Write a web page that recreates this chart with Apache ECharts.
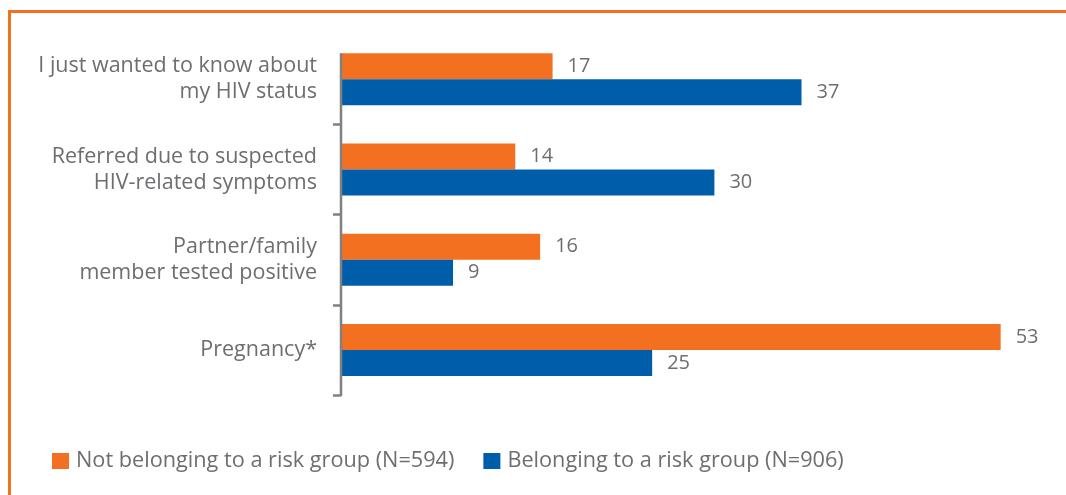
<!DOCTYPE html>
<html>
<head>
<meta charset="utf-8">
<script src="https://cdn.jsdelivr.net/npm/echarts@6/dist/echarts.min.js"></script>
<style>
  html, body { margin: 0; padding: 0; background: #ffffff; }
  #chart { width: 1066px; height: 495px; }
</style>
</head>
<body>
<div id="chart"></div>
<script>
// Reasons for taking an HIV test, percent of respondents
const categories = [
  'I just wanted to know about\nmy HIV status',
  'Referred due to suspected\nHIV-related symptoms',
  'Partner/family\nmember tested positive',
  'Pregnancy*'
];
const notRiskGroup = [17, 14, 16, 53];
const riskGroup = [37, 30, 9, 25];
const seriesNames = [
  'Not belonging to a risk group (N=594)',
  'Belonging to a risk group (N=906)'
];

const ORANGE = '#f37021';
const BLUE = '#005daa';
const GREY_TEXT = '#6d6e71';
const AXIS_GREY = '#808080';
const FONT = '"Open Sans", Lato, sans-serif';

const chart = echarts.init(document.getElementById('chart'));

const valueLabel = {
  show: true,
  position: 'right',
  distance: 15,
  color: GREY_TEXT,
  fontSize: 20,
  fontFamily: FONT
};

chart.setOption({
  animation: false,
  backgroundColor: '#ffffff',
  grid: { left: 341, right: 28, top: 34, bottom: 100 },
  legend: {
    left: 47,
    top: 445,
    itemWidth: 17,
    itemHeight: 16,
    itemGap: 29,
    icon: 'rect',
    textStyle: {
      color: GREY_TEXT,
      fontSize: 21.7,
      fontFamily: FONT,
      padding: [0, 0, 0, 2]
    },
    data: seriesNames
  },
  xAxis: {
    type: 'value',
    min: 0,
    max: 56,
    show: false
  },
  yAxis: {
    type: 'category',
    inverse: true,
    data: categories,
    axisLine: { show: false },
    axisTick: {
      show: true,
      length: 8,
      // no tick at the very top of the axis
      interval: function (index) { return index > 0; },
      lineStyle: { color: AXIS_GREY, width: 2.5 }
    },
    axisLabel: {
      margin: 24,
      color: GREY_TEXT,
      fontSize: 21.5,
      lineHeight: 26,
      fontFamily: FONT,
      align: 'right'
    }
  },
  series: [
    {
      name: seriesNames[0],
      type: 'bar',
      data: notRiskGroup,
      barWidth: 26,
      barGap: '0%',
      itemStyle: { color: ORANGE },
      label: valueLabel
    },
    {
      name: seriesNames[1],
      type: 'bar',
      data: riskGroup,
      barWidth: 26,
      barGap: '0%',
      itemStyle: { color: BLUE },
      label: valueLabel
    }
  ]
});

// Vertical axis line: runs from the top of the first bar pair down to the plot bottom,
// plus the orange frame along the top and left edges.
const x0 = chart.convertToPixel({ xAxisIndex: 0 }, 0);
const firstCenter = chart.convertToPixel({ yAxisIndex: 0 }, categories[0]);
const gridRect = chart.getModel().getComponent('grid').coordinateSystem.getRect();
const axisTop = firstCenter - 26;
const axisBottom = gridRect.y + gridRect.height;

chart.setOption({
  graphic: [
    {
      type: 'line',
      shape: { x1: x0, y1: axisTop, x2: x0, y2: axisBottom + 1 },
      style: { stroke: AXIS_GREY, lineWidth: 2.5 },
      z: 10
    },
    {
      type: 'polyline',
      shape: { points: [[9.5, 495], [9.5, 11.5], [1066, 11.5]] },
      style: { stroke: ORANGE, lineWidth: 3, fill: null },
      z: 10
    }
  ]
});
</script>
</body>
</html>
